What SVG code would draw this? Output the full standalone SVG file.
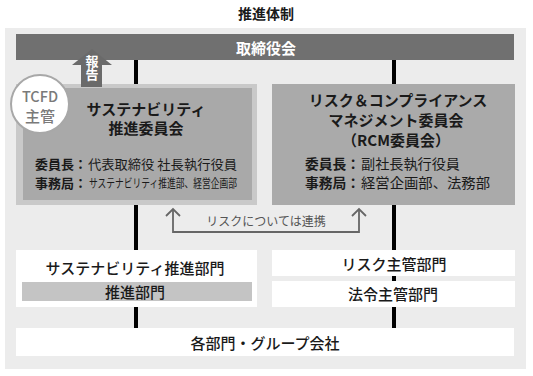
<svg xmlns="http://www.w3.org/2000/svg" width="533" height="376" viewBox="0 0 533 376">
<style>
text{font-family:"Noto Sans CJK JP","Noto Sans",sans-serif;fill:#1a1a1a}
.b{font-weight:700}
.m{font-weight:500}
.c{text-anchor:middle}
.wh{fill:#fff}
.vl{fill:#000}
.link{fill:none;stroke:#666;stroke-width:1.8}
</style>
<rect width="533" height="376" fill="#fff"/>
<text class="b c" x="266" y="19" font-size="14">推進体制</text>
<rect x="5" y="28" width="521" height="341" fill="#ececec"/>

<g id="connectors">
<rect class="vl" x="134" y="60" width="4" height="25"/>
<rect class="vl" x="392" y="60" width="4" height="25"/>
<rect class="vl" x="134" y="204" width="4" height="47"/>
<rect class="vl" x="392" y="204" width="4" height="47"/>
<rect class="vl" x="392" y="275" width="4" height="7"/>
<rect class="vl" x="134" y="306" width="4" height="23"/>
<rect class="vl" x="392" y="306" width="4" height="23"/>
<polyline class="link" points="173,209 173,232 359,232 359,209"/>
<polyline class="link" points="166,216 173,209 180,216"/>
<polyline class="link" points="352,216 359,209 366,216"/>
<text class="c" x="266" y="226" font-size="12" style="fill:#555">リスクについては連携</text>
</g>

<g id="board">
<rect x="16" y="34" width="498" height="26" fill="#707070"/>
<text class="b c wh" x="266" y="54" font-size="15">取締役会</text>
</g>

<g id="sust-committee">
<rect x="16" y="84" width="241" height="121" fill="#c9c9c9"/>
<rect x="23" y="88" width="229" height="112" fill="#a9a9a9"/>
<text class="b c" x="146" y="115" font-size="15">サステナビリティ</text>
<text class="b c" x="146" y="134" font-size="15">推進委員会</text>
<text class="b" x="35" y="169" font-size="13" textLength="52" lengthAdjust="spacingAndGlyphs">委員長：</text>
<text x="88" y="169" font-size="13" textLength="149" lengthAdjust="spacingAndGlyphs">代表取締役 社長執行役員</text>
<text class="b" x="35" y="188" font-size="13" textLength="52" lengthAdjust="spacingAndGlyphs">事務局：</text>
<text x="89" y="188" font-size="12" textLength="148" lengthAdjust="spacingAndGlyphs">サステナビリティ推進部、経営企画部</text>
</g>

<g id="report">
<polygon points="92,49 112,65 102,65 102,87 81,87 81,65 72,65" fill="#6a6a6a"/>
<text class="b wh" x="92" y="55" font-size="13" style="writing-mode:vertical-rl">報告</text>
</g>

<g id="tcfd">
<circle cx="40" cy="104" r="29" fill="#fff" stroke="#a8a8a8" stroke-width="2"/>
<text class="m c" x="40" y="102" font-size="14.5" style="fill:#7a7a7a">TCFD</text>
<text class="m c" x="40" y="122" font-size="15" style="fill:#7a7a7a">主管</text>
</g>

<g id="rcm-committee">
<rect x="272" y="84" width="243" height="121" fill="#aaaaaa"/>
<text class="b c" x="398" y="106" font-size="15">リスク＆コンプライアンス</text>
<text class="b c" x="396" y="126" font-size="15">マネジメント委員会</text>
<text class="b c" x="396" y="146" font-size="15">（RCM委員会）</text>
<text class="b" x="305" y="169" font-size="13.5" textLength="55" lengthAdjust="spacingAndGlyphs">委員長：</text>
<text x="361" y="169" font-size="13.5" textLength="99" lengthAdjust="spacingAndGlyphs">副社長執行役員</text>
<text class="b" x="305" y="188" font-size="13.5" textLength="55" lengthAdjust="spacingAndGlyphs">事務局：</text>
<text x="361" y="188" font-size="13.5" textLength="129" lengthAdjust="spacingAndGlyphs">経営企画部、法務部</text>
</g>

<g id="sust-dept">
<rect x="16" y="250" width="241" height="57" fill="#fff"/>
<text class="m c" x="135" y="274" font-size="15">サステナビリティ推進部門</text>
<rect x="22" y="282" width="230" height="19" fill="#c4c4c4"/>
<text class="m c" x="135" y="298" font-size="15">推進部門</text>
</g>

<g id="risk-dept">
<rect x="272" y="250" width="243" height="26" fill="#fff"/>
<text class="m c" x="394" y="270" font-size="15">リスク主管部門</text>
</g>

<g id="legal-dept">
<rect x="272" y="281" width="243" height="26" fill="#fff"/>
<text class="m c" x="393" y="300" font-size="15">法令主管部門</text>
</g>

<g id="all-depts">
<rect x="16" y="328" width="498" height="28" fill="#fff"/>
<text class="m c" x="265" y="349" font-size="15">各部門・グループ会社</text>
</g>
</svg>
